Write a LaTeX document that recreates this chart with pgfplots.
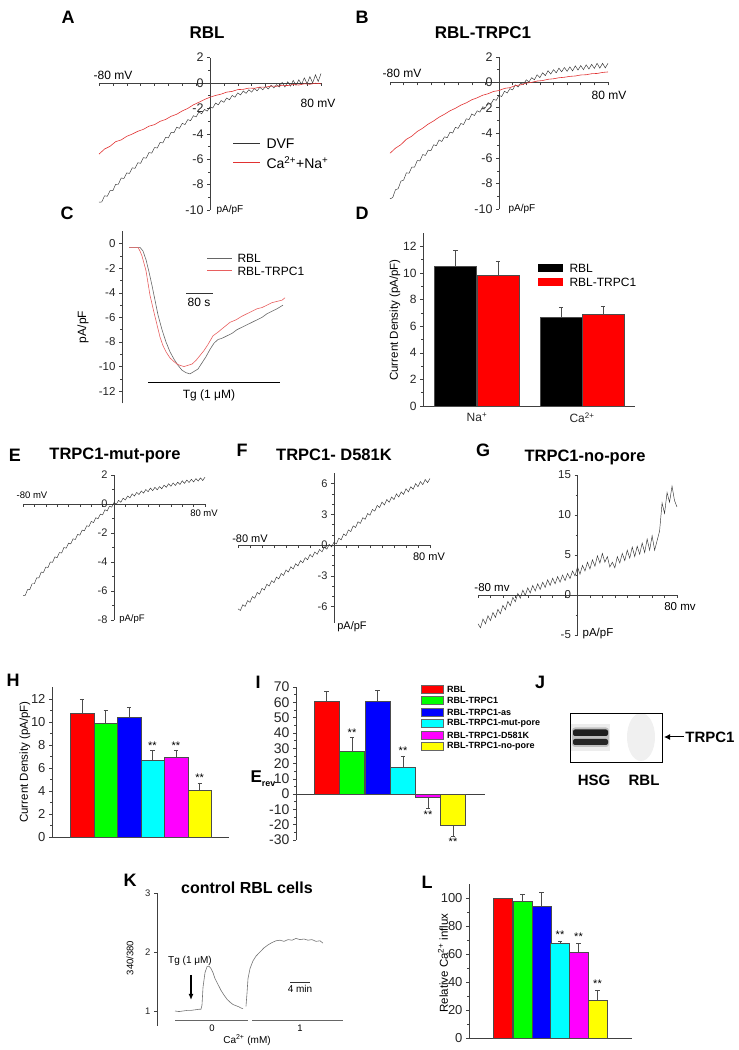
\documentclass[border=0pt]{standalone}
\usepackage{pgfplots}
\pgfplotsset{compat=1.18}
\usepackage{fontspec}
\setmainfont{Liberation Sans}
\usetikzlibrary{arrows.meta}
\newcommand{\fs}[1]{\fontsize{#1}{#1}\selectfont}
\definecolor{cred}{RGB}{255,0,0}
\definecolor{cgreen}{RGB}{0,255,0}
\definecolor{cblue}{RGB}{0,0,255}
\definecolor{ccyan}{RGB}{0,255,255}
\definecolor{cmag}{RGB}{255,0,255}
\definecolor{cyel}{RGB}{255,255,0}
\definecolor{tred}{RGB}{225,50,50}
\definecolor{pred}{RGB}{232,95,95}
\pgfplotsset{
  base/.style={scale only axis, anchor=south west, clip=false,
    /pgf/number format/assume math mode=true,
    axis line style={black!75, line width=0.6pt},
    tick style={black!75, line width=0.5pt},
    major tick length=3pt, minor tick length=1.8pt,
    tick label style={black!85}},
  iv/.style={base, axis lines*=middle, hide obscured x ticks=true, hide obscured y ticks=false,
    xmin=-80, xmax=80, xtick={-80,-70,...,80}, xticklabels={}, tick align=outside},
  barax/.style={base, axis x line*=bottom, axis y line*=left, xtick=\empty, ytick pos=left, tick align=outside},
  eb/.style={error bars/.cd, y dir=plus, y explicit, error bar style={black!70,line width=0.5pt},
    error mark options={black!70, line width=0.5pt, mark size=2.2pt, rotate=90}},
  ebm/.style={error bars/.cd, y dir=minus, y explicit, error bar style={black!70,line width=0.5pt},
    error mark options={black!70, line width=0.5pt, mark size=2.2pt, rotate=90}},
  bb/.style={ybar, bar shift=0pt, draw=black!70, line width=0.4pt},
}
\begin{document}
\begin{tikzpicture}
\path[use as bounding box] (0,0) rectangle (739pt,1050pt);

% ---------------- A ----------------
\begin{axis}[iv, at={(99pt,840pt)}, width=222pt, height=152.4pt, ymin=-10, ymax=2,
  ytick={-10,-8,...,2}, minor y tick num=1, ticklabel style={font=\fs{12.5}}]
\addplot[black!80, line width=0.45pt] coordinates {(-80,-9.38)(-78,-9.37)(-76,-8.88)(-74,-8.92)(-72,-8.48)(-70,-8.47)(-68,-7.98)(-66,-7.97)(-64,-7.48)(-62,-7.52)(-60,-7.08)(-58,-7.12)(-56,-6.68)(-54,-6.72)(-52,-6.28)(-50,-6.32)(-48,-5.88)(-46,-5.92)(-44,-5.48)(-42,-5.52)(-40,-5.08)(-38,-5.12)(-36,-4.68)(-34,-4.72)(-32,-4.28)(-30,-4.32)(-28,-3.88)(-26,-3.92)(-24,-3.48)(-22,-3.57)(-20,-3.18)(-18,-3.27)(-16,-2.88)(-14,-2.97)(-12,-2.58)(-10,-2.67)(-8,-2.28)(-6,-2.42)(-4,-2.08)(-2,-2.22)(0,-1.88)(2,-1.97)(4,-1.58)(6,-1.72)(8,-1.38)(10,-1.52)(12,-1.18)(14,-1.32)(16,-0.98)(18,-1.12)(20,-0.78)(22,-0.94)(24,-0.63)(26,-0.82)(28,-0.53)(30,-0.72)(32,-0.43)(34,-0.62)(36,-0.33)(38,-0.54)(40,-0.28)(42,-0.47)(44,-0.18)(46,-0.39)(48,-0.13)(50,-0.32)(52,0.05)(54,-0.32)(56,0.1)(58,-0.25)(60,0.2)(62,-0.17)(64,0.25)(66,-0.1)(68,0.4)(70,-0.05)(72,0.5)(74,0.0)(76,0.65)(78,0.12)(80,0.75)};
\addplot[tred, line width=0.6pt] coordinates {(-80,-5.6)(-76,-5.2)(-72,-4.98)(-68,-4.62)(-64,-4.48)(-60,-4.2)(-56,-4.02)(-52,-3.8)(-48,-3.65)(-44,-3.4)(-40,-3.28)(-36,-3.02)(-32,-2.87)(-28,-2.62)(-24,-2.46)(-20,-2.2)(-16,-2.0)(-12,-1.72)(-8,-1.52)(-4,-1.3)(0,-1.12)(4,-0.98)(8,-0.88)(12,-0.72)(16,-0.66)(20,-0.52)(24,-0.5)(28,-0.4)(32,-0.42)(36,-0.32)(40,-0.33)(44,-0.24)(48,-0.26)(52,-0.18)(56,-0.2)(60,-0.12)(64,-0.16)(68,-0.06)(72,-0.1)(76,-0.02)(80,-0.06)};
\end{axis}

% ---------------- B ----------------
\begin{axis}[iv, at={(390pt,841pt)}, width=218pt, height=152pt, ymin=-10, ymax=2,
  ytick={-10,-8,...,2}, minor y tick num=1, ticklabel style={font=\fs{12.5}}]
\addplot[black!80, line width=0.45pt] coordinates {(-80,-9.2)(-78,-9.1)(-76,-8.48)(-74,-8.4)(-72,-7.8)(-70,-7.72)(-68,-7.15)(-66,-7.17)(-64,-6.7)(-62,-6.7)(-60,-6.18)(-58,-6.2)(-56,-5.7)(-54,-5.77)(-52,-5.35)(-50,-5.4)(-48,-4.93)(-46,-5.0)(-44,-4.55)(-42,-4.67)(-40,-4.3)(-38,-4.37)(-36,-3.93)(-34,-4.0)(-32,-3.55)(-30,-3.64)(-28,-3.25)(-26,-3.33)(-24,-2.88)(-22,-2.94)(-20,-2.5)(-18,-2.62)(-16,-2.25)(-14,-2.35)(-12,-1.93)(-10,-2.02)(-8,-1.6)(-6,-1.72)(-4,-1.35)(-2,-1.42)(0,-1.03)(2,-1.12)(4,-0.7)(6,-0.84)(8,-0.5)(10,-0.6)(12,-0.2)(14,-0.37)(16,-0.05)(18,-0.17)(20,0.2)(22,0.03)(24,0.37)(26,0.2)(28,0.6)(30,0.37)(32,0.75)(34,0.53)(36,0.92)(38,0.65)(40,1.0)(42,0.75)(44,1.12)(46,0.83)(48,1.17)(50,0.87)(52,1.22)(54,0.9)(56,1.3)(58,0.97)(60,1.32)(62,1.0)(64,1.38)(66,1.05)(68,1.42)(70,1.1)(72,1.5)(74,1.12)(76,1.5)(78,1.14)(80,1.5)};
\addplot[tred, line width=0.6pt] coordinates {(-80,-5.6)(-76,-5.2)(-72,-4.92)(-68,-4.5)(-64,-4.25)(-60,-3.88)(-56,-3.62)(-52,-3.3)(-48,-3.05)(-44,-2.75)(-40,-2.52)(-36,-2.25)(-32,-2.05)(-28,-1.8)(-24,-1.62)(-20,-1.38)(-16,-1.22)(-12,-1.02)(-8,-0.9)(-4,-0.72)(0,-0.65)(4,-0.48)(8,-0.42)(12,-0.26)(16,-0.2)(20,-0.06)(24,0)(28,0.1)(32,0.14)(36,0.24)(40,0.28)(44,0.36)(48,0.4)(52,0.47)(56,0.5)(60,0.58)(64,0.6)(68,0.68)(72,0.7)(76,0.78)(80,0.82)};
\end{axis}

% ---------------- C ----------------
\begin{axis}[base, at={(122pt,646.6pt)}, width=168pt, height=172pt, xmin=0, xmax=168, ymin=-13, ymax=1,
  axis x line=none, axis y line*=left, ytick pos=left, tick align=outside,
  ytick={-12,-10,...,0}, minor y tick num=1, ticklabel style={font=\fs{11.5}}]
\addplot[black!60, line width=0.6pt] coordinates {(7,-0.3)(18,-0.3)(21,-0.6)(24,-1.3)(27,-2.3)(30,-3.4)(33,-4.6)(36,-5.8)(40,-7.0)(44,-8.0)(48,-8.8)(52,-9.4)(56,-9.9)(60,-10.3)(64,-10.5)(68,-10.6)(72,-10.4)(76,-10.2)(80,-9.7)(84,-9.2)(88,-8.6)(92,-8.1)(96,-7.8)(100,-7.7)(105,-7.5)(110,-7.3)(115,-7.0)(120,-6.8)(125,-6.6)(130,-6.4)(135,-6.2)(140,-6.0)(145,-5.7)(150,-5.5)(155,-5.3)(161,-5.0)};
\addplot[pred, line width=0.6pt] coordinates {(7,-0.3)(16,-0.3)(18,-0.6)(20,-1.0)(22,-1.6)(24,-2.2)(26,-3.2)(28,-4.2)(30,-4.9)(32,-5.6)(35,-6.6)(38,-7.6)(41,-8.3)(44,-8.8)(48,-9.3)(52,-9.6)(55,-9.8)(58,-9.9)(62,-10.0)(66,-9.9)(70,-9.8)(74,-9.5)(78,-9.1)(82,-8.7)(86,-8.2)(91,-7.5)(96,-7.2)(102,-6.8)(108,-6.4)(114,-6.2)(120,-5.9)(125,-5.7)(130,-5.5)(135,-5.3)(140,-5.2)(145,-5.0)(150,-4.8)(155,-4.7)(160,-4.6)(163,-4.4)};
\end{axis}

% ---------------- D ----------------
\begin{axis}[barax, at={(423pt,644pt)}, width=212pt, height=173pt, xmin=0, xmax=212, ymin=0, ymax=13,
  ytick={0,2,...,12}, minor y tick num=1, xtick={54,159}, xticklabels={Na\textsuperscript{+},Ca\textsuperscript{2+}},
  xtick style={draw=none}, ticklabel style={font=\fs{12}}]
\addplot[bb, bar width=42, fill=black, eb] coordinates {(32.5,10.5) +- (0,1.2)};
\addplot[bb, bar width=42, fill=cred, eb] coordinates {(75,9.8) +- (0,1.1)};
\addplot[bb, bar width=42, fill=black, eb] coordinates {(138,6.7) +- (0,0.7)};
\addplot[bb, bar width=42, fill=cred, eb] coordinates {(180,6.9) +- (0,0.6)};
\end{axis}

% ---------------- E ----------------
\begin{axis}[iv, at={(23pt,430pt)}, width=182pt, height=145pt, ymin=-8, ymax=2,
  ytick={-8,-6,...,2}, minor y tick num=1, ticklabel style={font=\fs{11}}]
\addplot[black!80, line width=0.45pt] coordinates {(-80,-6.3)(-78,-6.3)(-76,-5.9)(-74,-5.9)(-72,-5.5)(-70,-5.5)(-68,-5.1)(-66,-5.1)(-64,-4.7)(-62,-4.72)(-60,-4.35)(-58,-4.38)(-56,-4.0)(-54,-4.02)(-52,-3.65)(-50,-3.7)(-48,-3.35)(-46,-3.38)(-44,-3.0)(-42,-3.05)(-40,-2.7)(-38,-2.75)(-36,-2.4)(-34,-2.45)(-32,-2.1)(-30,-2.15)(-28,-1.8)(-26,-1.85)(-24,-1.5)(-22,-1.55)(-20,-1.2)(-18,-1.28)(-16,-0.95)(-14,-1.02)(-12,-0.7)(-10,-0.75)(-8,-0.4)(-6,-0.48)(-4,-0.15)(-2,-0.22)(0,0.1)(2,-0.02)(4,0.25)(6,0.12)(8,0.4)(10,0.28)(12,0.55)(14,0.42)(16,0.7)(18,0.55)(20,0.8)(22,0.65)(24,0.9)(26,0.75)(28,1.0)(30,0.85)(32,1.1)(34,0.92)(36,1.15)(38,0.98)(40,1.2)(42,1.05)(44,1.3)(46,1.15)(48,1.4)(50,1.22)(52,1.45)(54,1.28)(56,1.5)(58,1.35)(60,1.6)(62,1.42)(64,1.65)(66,1.48)(68,1.7)(70,1.52)(72,1.75)(74,1.58)(76,1.8)(78,1.62)(80,1.85)};
\end{axis}

% ---------------- F ----------------
\begin{axis}[iv, at={(238pt,427pt)}, width=192pt, height=149.6pt, ymin=-7.6, ymax=7,
  ytick={-6,-3,0,3,6}, minor y tick num=2, ticklabel style={font=\fs{11}}]
\addplot[black!80, line width=0.45pt] coordinates {(-80,-6.22)(-78,-6.38)(-76,-5.82)(-74,-5.98)(-72,-5.42)(-70,-5.58)(-68,-5.02)(-66,-5.18)(-64,-4.62)(-62,-4.78)(-60,-4.22)(-58,-4.38)(-56,-3.82)(-54,-4.0)(-52,-3.47)(-50,-3.66)(-48,-3.12)(-46,-3.3)(-44,-2.77)(-42,-2.96)(-40,-2.42)(-38,-2.63)(-36,-2.12)(-34,-2.33)(-32,-1.82)(-30,-2.03)(-28,-1.52)(-26,-1.73)(-24,-1.22)(-22,-1.43)(-20,-0.92)(-18,-1.16)(-16,-0.67)(-14,-0.9)(-12,-0.42)(-10,-0.66)(-8,-0.17)(-6,-0.4)(-4,0.08)(-2,-0.18)(0,0.28)(2,0.12)(4,0.68)(6,0.52)(8,1.08)(10,0.92)(12,1.48)(14,1.32)(16,1.88)(18,1.72)(20,2.28)(22,2.12)(24,2.68)(26,2.52)(28,3.08)(30,2.92)(32,3.48)(34,3.32)(36,3.88)(38,3.67)(40,4.2)(42,3.92)(44,4.45)(46,4.18)(48,4.7)(50,4.45)(52,5.0)(54,4.7)(56,5.2)(58,4.95)(60,5.5)(62,5.2)(64,5.7)(66,5.45)(68,6.0)(70,5.7)(72,6.2)(74,5.9)(76,6.4)(78,6.1)(80,6.5)};
\end{axis}

% ---------------- G ----------------
\begin{axis}[iv, at={(478pt,415pt)}, width=199pt, height=160pt, ymin=-5, ymax=15,
  ytick={-5,0,5,10,15}, minor y tick num=1, ticklabel style={font=\fs{11.5}}]
\addplot[black!80, line width=0.45pt] coordinates {(-80,-3.6)(-78,-4.1)(-76,-3.0)(-74,-3.6)(-72,-2.6)(-70,-3.2)(-68,-2.2)(-66,-2.8)(-64,-1.8)(-62,-2.35)(-60,-1.3)(-58,-1.85)(-56,-0.8)(-54,-1.35)(-52,-0.3)(-50,-0.85)(-48,0.2)(-46,-0.4)(-44,0.6)(-42,-0.05)(-40,0.9)(-38,0.25)(-36,1.2)(-34,0.5)(-32,1.4)(-30,0.7)(-28,1.6)(-26,0.95)(-24,1.9)(-22,1.2)(-20,2.1)(-18,1.4)(-16,2.3)(-14,1.6)(-12,2.5)(-10,1.8)(-8,2.7)(-6,2.05)(-4,3.0)(-2,2.4)(0,3.5)(2,2.6)(4,3.7)(6,3.0)(8,4.1)(10,3.25)(12,4.4)(14,3.6)(16,4.9)(18,4.0)(20,5.2)(22,4.1)(24,4.8)(26,3.5)(28,4.1)(30,3.4)(32,4.8)(34,4.0)(36,5.2)(38,4.3)(40,5.6)(42,4.6)(44,6.0)(46,4.8)(48,6.1)(50,5.1)(52,6.5)(54,5.3)(56,7.0)(58,5.6)(60,7.4)(62,5.6)(64,6.8)(66,8.0)(68,11.5)(70,10.2)(72,12.8)(74,11.6)(76,13.6)(78,11.8)(80,11.0)};
\end{axis}

% ---------------- H ----------------
\begin{axis}[barax, at={(52pt,213pt)}, width=177pt, height=149.5pt, xmin=0, xmax=177, ymin=0, ymax=13,
  ytick={0,2,...,12}, minor y tick num=1, ticklabel style={font=\fs{13}}]
\addplot[bb, bar width=23.5, fill=cred, eb] coordinates {(30,10.8) +- (0,1.2)};
\addplot[bb, bar width=23.5, fill=cgreen, eb] coordinates {(53.7,9.9) +- (0,1.1)};
\addplot[bb, bar width=23.5, fill=cblue, eb] coordinates {(77,10.4) +- (0,0.9)};
\addplot[bb, bar width=23.5, fill=ccyan, eb] coordinates {(100.5,6.7) +- (0,0.8)};
\addplot[bb, bar width=23.5, fill=cmag, eb] coordinates {(124,6.9) +- (0,0.6)};
\addplot[bb, bar width=23.5, fill=cyel, eb] coordinates {(147.7,4.1) +- (0,0.6)};
\node[font=\fs{11}, anchor=south, inner sep=1pt] at (axis cs:100.5,7.5) {**};
\node[font=\fs{11}, anchor=south, inner sep=1pt] at (axis cs:124,7.5) {**};
\node[font=\fs{11}, anchor=south, inner sep=1pt] at (axis cs:147.7,4.7) {**};
\end{axis}

% ---------------- I ----------------
\begin{axis}[base, at={(296pt,210pt)}, width=189pt, height=153pt, xmin=0, xmax=189, ymin=-30, ymax=70,
  axis x line*=middle, axis y line*=left, xtick=\empty, ytick pos=left, tick align=outside,
  ytick={-30,-20,...,70}, minor y tick num=1, ticklabel style={font=\fs{14}}]
\addplot[bb, bar width=25, fill=cred, eb] coordinates {(30.5,61) +- (0,6)};
\addplot[bb, bar width=25, fill=cgreen, eb] coordinates {(56,28) +- (0,9)};
\addplot[bb, bar width=25, fill=cblue, eb] coordinates {(81.5,61) +- (0,7)};
\addplot[bb, bar width=25, fill=ccyan, eb] coordinates {(107,17.5) +- (0,7.5)};
\addplot[bb, bar width=25, fill=cmag, ebm] coordinates {(132,-2) +- (0,7.5)};
\addplot[bb, bar width=25, fill=cyel, ebm] coordinates {(157,-20.3) +- (0,7)};
\node[font=\fs{11}, anchor=south, inner sep=1pt] at (axis cs:56,37) {**};
\node[font=\fs{11}, anchor=south, inner sep=1pt] at (axis cs:107,25) {**};
\node[font=\fs{11}, anchor=north, inner sep=2pt] at (axis cs:132,-9.5) {**};
\node[font=\fs{11}, anchor=north, inner sep=2pt] at (axis cs:157,-27.3) {**};
\end{axis}

% ---------------- K ----------------
\begin{axis}[base, at={(157pt,24.25pt)}, width=190pt, height=132.75pt, xmin=0, xmax=190, ymin=0.75, ymax=3,
  axis x line=none, axis y line*=left, ytick pos=left, tick align=outside,
  ytick={1,2,3}, ticklabel style={font=\fs{9.5}}]
\addplot[black!55, line width=0.6pt] coordinates {(18,1.0)(22,0.99)(26,1.0)(30,1.01)(34,1.01)(38,1.02)(42,1.03)(44,1.03)(45,1.1)(46,1.4)(48,1.65)(50,1.75)(52,1.76)(54,1.72)(56,1.65)(58,1.55)(61,1.45)(64,1.35)(67,1.27)(70,1.2)(73,1.15)(76,1.11)(79,1.09)(82,1.07)(84,1.05)(86,1.04)};
\addplot[black!55, line width=0.6pt] coordinates {(89,1.08)(90,1.3)(91,1.55)(93,1.72)(96,1.85)(99,1.93)(103,2.0)(107,2.07)(111,2.12)(115,2.16)(119,2.19)(123,2.2)(127,2.18)(131,2.21)(135,2.2)(139,2.23)(143,2.21)(147,2.22)(151,2.2)(155,2.21)(159,2.18)(163,2.19)(166,2.15)};
\end{axis}

% ---------------- L ----------------
\begin{axis}[barax, at={(469pt,12pt)}, width=163pt, height=154pt, xmin=0, xmax=163, ymin=0, ymax=110,
  ytick={0,20,...,100}, minor y tick num=1, ticklabel style={font=\fs{13}}]
\addplot[bb, bar width=19, fill=cred] coordinates {(34,100)};
\addplot[bb, bar width=19, fill=cgreen, eb] coordinates {(53.5,97.5) +- (0,5.5)};
\addplot[bb, bar width=19, fill=cblue, eb] coordinates {(72.5,94) +- (0,10)};
\addplot[bb, bar width=19, fill=ccyan, eb] coordinates {(91,67.5) +- (0,1.5)};
\addplot[bb, bar width=19, fill=cmag, eb] coordinates {(109.5,61.5) +- (0,6)};
\addplot[bb, bar width=19, fill=cyel, eb] coordinates {(128.5,27) +- (0,7)};
\node[font=\fs{11}, anchor=south, inner sep=1pt] at (axis cs:91,70) {**};
\node[font=\fs{11}, anchor=south, inner sep=1pt] at (axis cs:109.5,68.5) {**};
\node[font=\fs{11}, anchor=south, inner sep=1pt] at (axis cs:128.5,35) {**};
\end{axis}

% ---------------- annotations in pixel coordinates ----------------
\begin{scope}[shift={(0pt,1050pt)}, x=1pt, y=-1pt]
\foreach \l/\px/\py in {A/68/17, B/362/17, C/67/213, D/362/213, E/15/455, F/242/450, G/483/450, H/13/680, I/258/682, J/540/682, K/130/880, L/427/882}
  \node[font=\fs{18}\bfseries] at (\px,\py) {\l};
\node[font=\fs{17}\bfseries] at (207,33) {RBL};
\node[font=\fs{17}\bfseries] at (483,33) {RBL-TRPC1};
\node[font=\fs{16.5}\bfseries] at (115,455) {TRPC1-mut-pore};
\node[font=\fs{16.5}\bfseries] at (334,455) {TRPC1- D581K};
\node[font=\fs{16.5}\bfseries] at (585,457) {TRPC1-no-pore};
\node[font=\fs{16}\bfseries] at (247,888) {control RBL cells};
% A
\node[font=\fs{12}] at (113,75) {-80 mV};
\node[font=\fs{12}] at (318,103) {80 mV};
\node[font=\fs{10}] at (230,210) {pA/pF};
\draw[black!80, line width=0.6pt] (233,143) -- (260,143);
\draw[tred, line width=0.8pt] (233,162) -- (260,162);
\node[font=\fs{14}, anchor=west] at (263,144) {DVF};
\node[font=\fs{14}, anchor=west] at (263,163) {Ca\textsuperscript{2+}+Na\textsuperscript{+}};
% B
\node[font=\fs{12}] at (402,73) {-80 mV};
\node[font=\fs{12}] at (609,95) {80 mV};
\node[font=\fs{10}] at (522,209) {pA/pF};
% C
\node[font=\fs{12}, rotate=90] at (83,327) {pA/pF};
\draw[black!60, line width=0.6pt] (207,258) -- (232,258);
\draw[pred, line width=0.8pt] (207,270) -- (232,270);
\node[font=\fs{12}, anchor=west] at (234,258) {RBL};
\node[font=\fs{12}, anchor=west] at (234,271) {RBL-TRPC1};
\draw[black!80, line width=0.6pt] (186,293) -- (213,293);
\node[font=\fs{12}] at (199,302) {80 s};
\draw[black, line width=0.9pt] (148,382) -- (280,382);
\node[font=\fs{12}] at (209,395) {Tg (1 μM)};
% D
\node[font=\fs{11.5}, rotate=90] at (395,320) {Current Density (pA/pF)};
\fill[black] (538,264.5) rectangle (563,272.5);
\fill[cred] (538,278) rectangle (563,286);
\node[font=\fs{12}, anchor=west] at (566,268.5) {RBL};
\node[font=\fs{12}, anchor=west] at (566,282) {RBL-TRPC1};
% E
\node[font=\fs{9.5}] at (32,495) {-80 mV};
\node[font=\fs{9.5}] at (204,513) {80 mV};
\node[font=\fs{9.5}] at (132,619) {pA/pF};
% F
\node[font=\fs{11}] at (250,539) {-80 mV};
\node[font=\fs{11}] at (429,557) {80 mV};
\node[font=\fs{11}] at (352,627) {pA/pF};
% G
\node[font=\fs{11.5}] at (492,588) {-80 mv};
\node[font=\fs{11.5}] at (680,607) {80 mv};
\node[font=\fs{11.5}] at (598,634) {pA/pF};
% H
\node[font=\fs{11.5}, rotate=90] at (25,762) {Current Density (pA/pF)};
% I
\node[anchor=west, font=\bfseries] at (247,779) {\fs{17}E\raisebox{-4pt}{\fs{9}rev}};
\foreach \c/\yy/\t in {cred/689/RBL, cgreen/700.5/RBL-TRPC1, cblue/712/RBL-TRPC1-as, ccyan/723.5/RBL-TRPC1-mut-pore, cmag/735/RBL-TRPC1-D581K, cyel/746.5/RBL-TRPC1-no-pore} {
  \filldraw[fill=\c, draw=black!60, line width=0.3pt] (421,\yy-4) rectangle (443,\yy+4);
  \node[font=\fs{9}\bfseries, anchor=west, inner sep=1pt] at (446,\yy) {\t};
}
% J
\fill[black!6] (641,737) ellipse [x radius=14, y radius=24];
\fill[black!7] (571,724) rectangle (610,751);
\fill[black!25, rounded corners=3pt] (572,727.5) rectangle (609,747);
\fill[black!88, rounded corners=2pt] (573,729.5) rectangle (608,736);
\fill[black!85, rounded corners=2pt] (573,739) rectangle (608,745);
\draw[line width=0.9pt] (570,713) rectangle (662,762);
\draw[-{Latex[length=6pt,width=6pt]}, line width=1pt] (684,737) -- (664,737);
\node[font=\fs{15}\bfseries] at (710,737) {TRPC1};
\node[font=\fs{15}\bfseries] at (594,780) {HSG};
\node[font=\fs{15}\bfseries] at (644,780) {RBL};
% K
\node[font=\fs{9.5}, rotate=90] at (130,958) {340/380};
\draw[-{Latex[length=6pt,width=5pt]}, line width=1.2pt] (191,975) -- (191,1000);
\node[font=\fs{10}] at (190,961) {Tg (1 μM)};
\draw[black!80, line width=0.6pt] (290,982) -- (310,982);
\node[font=\fs{10}] at (300,989) {4 min};
\draw[black!60, line width=0.6pt] (175,1020) -- (248,1020);
\draw[black!60, line width=0.6pt] (252,1020) -- (343,1020);
\node[font=\fs{9.5}] at (212,1028) {0};
\node[font=\fs{9.5}] at (300,1028) {1};
\node[font=\fs{10}] at (247,1040) {Ca\textsuperscript{2+} (mM)};
% L
\node[font=\fs{11.5}, rotate=90] at (443,963) {Relative Ca\textsuperscript{2+} influx};
\end{scope}
\end{tikzpicture}
\end{document}
